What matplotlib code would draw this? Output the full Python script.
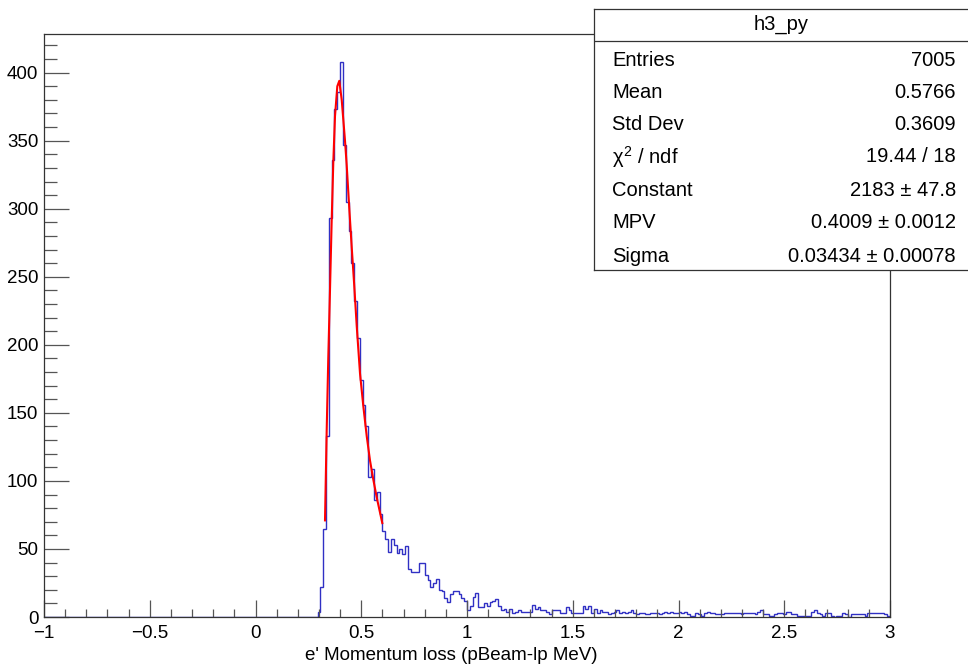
import numpy as np
import matplotlib
matplotlib.use("Agg")
import matplotlib.pyplot as plt
from matplotlib import font_manager
from matplotlib.ticker import MultipleLocator

# font: ROOT helvetica looks narrow, use Liberation Sans Narrow if we have it
names = {f.name for f in font_manager.fontManager.ttflist}
if "Liberation Sans Narrow" in names:
    FONT = "Liberation Sans Narrow"
    fs_tick, fs_stat = 16, 17.5
else:
    FONT = "Liberation Sans"
    fs_tick, fs_stat = 13.5, 14.5
plt.rcParams['font.family'] = [FONT, 'DejaVu Sans']
plt.rcParams['mathtext.fontset'] = 'custom'
plt.rcParams['mathtext.rm'] = FONT
plt.rcParams['mathtext.it'] = FONT

# histogram h3_py: 300 bins from -1 to 3, filled bins start at bin 97
n_bins = 300
x_lo, x_hi = -1.0, 3.0
first_bin = 97
counts = [4, 22, 65, 133, 293, 336, 373, 386, 408, 347,
          305, 284, 260, 232, 205, 174, 156, 140, 103, 109,
          86, 92, 76, 63, 57, 48, 57, 53, 47, 50,
          46, 52, 35, 33, 33, 33, 40, 40, 31, 27,
          22, 25, 28, 20, 19, 14, 11, 17, 19, 19,
          17, 14, 12, 5, 8, 15, 18, 7, 7, 10,
          8, 11, 12, 13, 8, 5, 6, 4, 6, 3,
          4, 5, 4, 4, 4, 4, 9, 6,
          7, 5, 5, 4, 2, 5, 5, 5, 3, 3,
          7, 5, 3, 3, 3, 3, 8, 6, 8, 3,
          6, 3, 5, 4, 4, 2, 3, 4, 5, 3,
          4, 3, 4, 5, 3, 2, 3, 3, 2, 2,
          3, 3, 3, 2, 3, 4, 3, 4, 3, 3,
          4, 3, 4, 2, 1, 1, 3, 2, 1, 3,
          4, 3, 3, 2, 2, 2, 3, 3, 3, 3,
          3, 3, 2, 3, 3, 3, 3, 2, 4, 5,
          2, 2, 1, 1, 2, 3, 3, 2, 4, 4,
          2, 2, 1, 1, 1, 1, 1, 4, 5, 3,
          2, 1, 3, 3, 1, 0, 1, 1, 3, 2,
          0, 2, 2, 2, 2, 2, 1, 3, 3, 3,
          3, 3, 3, 2, 1]

# landau fit curve
fit_x = [0.3286, 0.3366, 0.3442, 0.3522, 0.3600, 0.3678, 0.3759, 0.3868,
         0.3962, 0.4076, 0.4232, 0.4312, 0.4435, 0.4548, 0.4671, 0.4785,
         0.4941, 0.5097, 0.5258, 0.5414, 0.5570, 0.5730, 0.5995]
fit_y = [71, 137, 191, 240, 290, 334, 368, 390,
         394, 380, 350, 332, 300, 272, 243, 214,
         179, 155, 133, 115, 101, 88, 69]

x_ticks = [-1, -0.5, 0, 0.5, 1, 1.5, 2, 2.5, 3]
x_tick_labels = ["\u22121", "\u22120.5", "0", "0.5", "1", "1.5", "2", "2.5", "3"]
y_ticks = [0, 50, 100, 150, 200, 250, 300, 350, 400]
x_title = "e' Momentum loss (pBeam-lp MeV)"

stat_title = "h3_py"
stat_names = ["Entries", "Mean", "Std Dev", r"$\chi^{2}$ / ndf",
              "Constant", "MPV", "Sigma"]
stat_values = ["7005", "0.5766", "0.3609", "19.44 / 18",
               "2183 \u00b1 47.8", "0.4009 \u00b1 0.0012",
               "0.03434 \u00b1 0.00078"]

W, H = 968, 669
fig = plt.figure(figsize=(W / 100, H / 100), dpi=100)
ax = fig.add_axes([44 / W, 1 - 617 / H, (890 - 44) / W, (617 - 34) / H])

edges = np.linspace(x_lo, x_hi, n_bins + 1)
h = np.zeros(n_bins)
h[first_bin:first_bin + len(counts)] = counts
ax.stairs(h, edges, color='#3030c4', lw=1.0, baseline=None)
ax.plot(fit_x, fit_y, color='#ff0000', lw=1.5)

ax.set_xlim(x_lo, x_hi)
ax.set_ylim(0, max(counts) * 1.05)
ax.set_xticks(x_ticks)
ax.set_xticklabels(x_tick_labels)
ax.set_yticks(y_ticks)
ax.xaxis.set_minor_locator(MultipleLocator(0.1))
ax.yaxis.set_minor_locator(MultipleLocator(10))
ax.tick_params(axis='x', which='major', direction='in', length=12, width=0.9,
               pad=6, labelsize=fs_tick, color='#555555')
ax.tick_params(axis='x', which='minor', direction='in', length=6, width=0.9,
               color='#555555')
ax.tick_params(axis='y', which='major', direction='in', length=18, width=0.9,
               pad=4, labelsize=fs_tick, color='#555555')
ax.tick_params(axis='y', which='minor', direction='in', length=9, width=0.9,
               color='#555555')
for s in ax.spines.values():
    s.set_linewidth(0.9)
    s.set_color('#333333')

fig.text(451 / W, 1 - 655 / H, x_title, ha='center', va='center', fontsize=fs_tick)

# stats box (top right, runs off the canvas like the ROOT pad)
box = fig.add_axes([594 / W, 1 - 270 / H, 0.5, (270 - 9) / H])
box.set_xticks([])
box.set_yticks([])
box.set_facecolor('white')
for s in box.spines.values():
    s.set_linewidth(0.9)
    s.set_color('#333333')
box.axhline((270 - 41) / (270 - 9), color='#333333', lw=0.9)

fig.text((594 + 968) / 2 / W, 1 - 24 / H, stat_title, ha='center', va='center',
         fontsize=fs_stat)
row_y = [60, 92, 125, 157, 190, 223, 256]
for name, val, yy in zip(stat_names, stat_values, row_y):
    fig.text(612 / W, 1 - yy / H, name, ha='left', va='center', fontsize=fs_stat)
    fig.text(956 / W, 1 - yy / H, val, ha='right', va='center', fontsize=fs_stat)

fig.savefig("out.png", dpi=100)
